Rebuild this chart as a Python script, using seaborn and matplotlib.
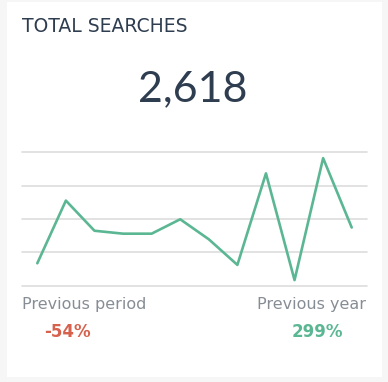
import matplotlib
matplotlib.use("Agg")
import matplotlib.pyplot as plt
import seaborn as sns
import pandas as pd
from matplotlib.patches import Rectangle

# values (grid step = 125)
periods = list(range(12))
searches = [84, 319, 206, 195, 195, 249, 174, 78, 421, 21, 478, 218]
total_label = "2,618"
title = "TOTAL SEARCHES"
prev_period = "-54%"
prev_year = "299%"

df = pd.DataFrame({"period": periods, "searches": searches})

sns.set_style("white")
plt.rcParams["font.family"] = ["DejaVu Sans"]

W, H = 388, 382
fig = plt.figure(figsize=(W / 100, H / 100), dpi=100)
fig.patch.set_facecolor("#f6f6f7")

# white card behind everything
fig.patches.append(Rectangle((7 / W, 1 - 377 / H), 375 / W, 375 / H,
                             transform=fig.transFigure, facecolor="white",
                             edgecolor="none", zorder=-5))

ax = fig.add_axes([22 / W, 1 - 285.7 / H, 345 / W, 133.4 / H])
sns.lineplot(data=df, x="period", y="searches", ax=ax, color="#5bb793",
             linewidth=1.9, zorder=3)
ax.set_xlim(-0.535, 11.535)
ax.set_ylim(0, 500)
ax.set_yticks([0, 125, 250, 375, 500])
ax.set_xticks([])
ax.yaxis.grid(True, color="#dddddd", linewidth=1.2)
for gl in ax.get_ygridlines():
    gl.set_clip_on(False)
ax.set_axisbelow(True)
ax.tick_params(left=False, labelleft=False)
ax.set_xlabel("")
ax.set_ylabel("")
ax.set_facecolor("none")
for s in ax.spines.values():
    s.set_visible(False)

dark = "#2e3d4f"
gray = "#878d95"
fig.text(22 / W, 1 - 26 / H, title, fontsize=13.5, color=dark, va="center",
         ha="left")
fig.text(192.5 / W, 1 - 89 / H, total_label, fontsize=31, color=dark,
         va="center", ha="center", family="Lato")
fig.text(22 / W, 1 - 304 / H, "Previous period", fontsize=11.5, color=gray,
         va="center", ha="left")
fig.text(366 / W, 1 - 304 / H, "Previous year", fontsize=11.5, color=gray,
         va="center", ha="right")
fig.text(67 / W, 1 - 332 / H, prev_period, fontsize=12, color="#d6614d",
         fontweight="bold", va="center", ha="center")
fig.text(317.5 / W, 1 - 332 / H, prev_year, fontsize=12, color="#5bb793",
         fontweight="bold", va="center", ha="center")

fig.savefig("out.png", dpi=100, facecolor=fig.get_facecolor())
